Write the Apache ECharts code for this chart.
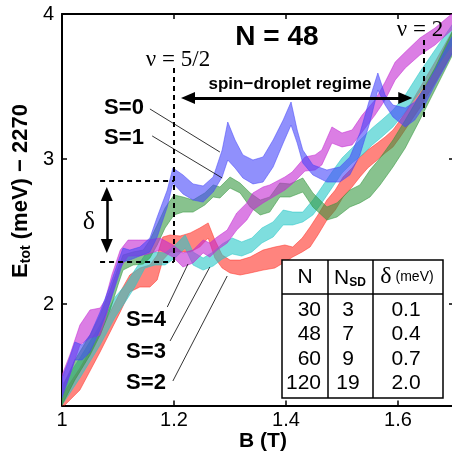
<!DOCTYPE html>
<html>
<head>
<meta charset="utf-8">
<script src="https://cdn.jsdelivr.net/npm/echarts@6/dist/echarts.min.js"></script>
<style>
html,body{margin:0;padding:0;background:#fff;}
#chart{width:452px;height:458px;}
</style>
</head>
<body>
<div id="chart"></div>
<script>
// S=0 (blue): B, lower edge, upper edge of the band
const s0B  = [1.000,1.011,1.023,1.036,1.050,1.068,1.086,1.100,1.109,1.121,1.139,1.157,1.170,1.188,1.198,1.216,1.234,1.252,1.270,1.286,1.296,1.309,1.323,1.341,1.359,1.377,1.395,1.409,1.420,1.430,1.448,1.473,1.496,1.514,1.532,1.550,1.564,1.577,1.591,1.613,1.630,1.648,1.666,1.684,1.700];
const s0Lo = [1.352,1.476,1.614,1.614,1.669,1.821,2.014,2.179,2.290,2.303,2.331,2.359,2.462,2.669,2.834,2.759,2.717,2.703,2.772,2.876,2.993,2.938,2.869,2.828,2.841,2.945,3.110,3.234,3.110,2.972,2.890,2.841,2.841,2.890,3.028,3.255,3.476,3.372,3.290,3.221,3.269,3.372,3.510,3.634,3.752];
const s0Hi = [1.490,1.600,1.738,1.717,1.786,1.945,2.131,2.290,2.386,2.372,2.393,2.455,2.600,2.786,2.938,2.890,2.828,2.814,2.876,3.062,3.255,3.131,3.028,2.993,3.014,3.131,3.269,3.393,3.200,3.062,2.959,2.924,2.945,3.014,3.179,3.421,3.593,3.441,3.372,3.352,3.393,3.490,3.614,3.752,3.869];

// S=1 (green)
const s1B  = [1.000,1.023,1.050,1.068,1.086,1.100,1.109,1.127,1.145,1.157,1.170,1.184,1.200,1.216,1.234,1.255,1.270,1.282,1.300,1.318,1.336,1.354,1.371,1.389,1.407,1.430,1.448,1.473,1.491,1.514,1.532,1.550,1.568,1.591,1.613,1.639,1.666,1.700];
const s1Lo = [1.303,1.476,1.648,1.786,1.959,2.131,2.234,2.269,2.276,2.317,2.407,2.524,2.614,2.634,2.634,2.683,2.738,2.731,2.800,2.766,2.669,2.614,2.634,2.738,2.738,2.772,2.669,2.579,2.600,2.669,2.697,2.738,2.821,2.945,3.076,3.269,3.476,3.738];
const s1Hi = [1.421,1.614,1.786,1.924,2.097,2.248,2.338,2.359,2.372,2.441,2.545,2.662,2.752,2.738,2.717,2.766,2.821,2.807,2.876,2.834,2.766,2.717,2.738,2.834,2.828,2.869,2.766,2.669,2.697,2.786,2.821,2.924,3.007,3.131,3.269,3.441,3.628,3.903];

// S=2 (red)
const s2B  = [1.000,1.032,1.068,1.086,1.104,1.121,1.139,1.157,1.170,1.180,1.193,1.211,1.229,1.246,1.261,1.273,1.286,1.300,1.318,1.336,1.359,1.380,1.398,1.412,1.429,1.443,1.457,1.473,1.488,1.502,1.518,1.532,1.546,1.563,1.577,1.591,1.604,1.616,1.639,1.666,1.700];
const s2Lo = [1.283,1.407,1.669,1.807,1.945,2.083,2.117,2.117,2.166,2.303,2.359,2.359,2.359,2.393,2.455,2.317,2.248,2.214,2.200,2.214,2.234,2.248,2.290,2.324,2.359,2.393,2.476,2.579,2.648,2.738,2.807,2.876,2.938,2.993,3.041,3.083,3.152,3.221,3.352,3.524,3.752];
const s2Hi = [1.372,1.559,1.800,1.945,2.083,2.200,2.248,2.269,2.338,2.462,2.476,2.469,2.490,2.524,2.559,2.441,2.338,2.303,2.303,2.324,2.372,2.393,2.407,2.393,2.455,2.531,2.614,2.717,2.786,2.876,2.938,3.014,3.062,3.110,3.152,3.200,3.269,3.338,3.490,3.669,3.903];

// S=3 (cyan)
const s3B  = [1.000,1.032,1.068,1.095,1.113,1.130,1.148,1.166,1.184,1.202,1.220,1.234,1.252,1.270,1.286,1.304,1.321,1.339,1.357,1.377,1.395,1.412,1.430,1.448,1.464,1.482,1.500,1.518,1.536,1.554,1.571,1.591,1.613,1.639,1.666,1.700];
const s3Lo = [1.303,1.490,1.717,1.910,2.014,2.117,2.248,2.269,2.269,2.317,2.386,2.269,2.234,2.262,2.310,2.345,2.331,2.359,2.421,2.462,2.545,2.545,2.566,2.614,2.697,2.800,2.903,2.972,3.028,3.097,3.152,3.221,3.324,3.462,3.614,3.807];
const s3Hi = [1.441,1.628,1.855,2.048,2.131,2.234,2.338,2.359,2.352,2.407,2.476,2.359,2.317,2.359,2.414,2.455,2.428,2.455,2.524,2.566,2.648,2.634,2.634,2.717,2.807,2.910,3.007,3.076,3.145,3.214,3.269,3.338,3.441,3.600,3.752,3.945];

// S=4 (magenta)
const s4B  = [1.000,1.014,1.032,1.050,1.068,1.077,1.089,1.104,1.118,1.136,1.154,1.175,1.198,1.216,1.234,1.252,1.264,1.277,1.295,1.312,1.330,1.341,1.359,1.371,1.398,1.411,1.434,1.452,1.464,1.482,1.500,1.518,1.536,1.559,1.577,1.595,1.613,1.639,1.666,1.700];
const s4Lo = [1.372,1.510,1.717,1.766,1.786,1.890,2.062,2.248,2.331,2.331,2.345,2.372,2.324,2.255,2.283,2.352,2.324,2.372,2.421,2.510,2.579,2.648,2.697,2.724,2.786,2.828,2.917,2.924,2.959,3.110,3.083,3.097,3.186,3.303,3.407,3.545,3.628,3.717,3.786,3.903];
const s4Hi = [1.510,1.648,1.855,1.959,1.972,2.028,2.200,2.372,2.441,2.441,2.441,2.455,2.407,2.352,2.372,2.441,2.421,2.462,2.510,2.628,2.697,2.766,2.807,2.821,2.876,2.910,3.014,3.028,3.062,3.221,3.179,3.200,3.303,3.407,3.531,3.669,3.738,3.834,3.903,4.014];

// inset table
const tableN     = ['30', '48', '60', '120'];
const tableNsd   = ['3', '7', '9', '19'];
const tableDelta = ['0.1', '0.4', '0.7', '2.0'];

// axis ticks
const xTicks = [1, 1.2, 1.4, 1.6];
const yTicks = [2, 3, 4];

// annotation segments in data coords [B, E]
const nu52Line   = [[1.2, 3.628], [1.2, 2.290]];
const nu2Line    = [[1.646, 3.821], [1.646, 3.290]];
const deltaTop   = [[1.068, 2.848], [1.2, 2.848]];
const deltaBot   = [[1.068, 2.290], [1.2, 2.290]];
const deltaArrow = [[1.080, 2.759], [1.080, 2.400]];
const spinArrow  = [[1.225, 3.421], [1.613, 3.421]];
const pointers = [
  [[1.157, 3.345], [1.282, 3.048]], // S=0
  [[1.161, 3.159], [1.286, 2.869]], // S=1
  [[1.188, 1.979], [1.225, 2.276]], // S=4
  [[1.193, 1.745], [1.264, 2.255]], // S=3
  [[1.198, 1.469], [1.295, 2.193]]  // S=2
];

const sans = '"Liberation Sans", Arial, Helvetica, sans-serif';
const serif = '"Liberation Serif", "Times New Roman", serif';

// one shaded band = polygon: upper edge left->right, lower edge back
function band(name, bs, lo, hi, rgb, alpha) {
  return {
    name: name, type: 'custom', silent: true, animation: false,
    encode: { x: 0, y: [1, 2] },
    data: bs.map((b, i) => [b, lo[i], hi[i]]),
    renderItem: function (params, api) {
      if (params.dataIndexInside !== 0) return null;
      const n = params.dataInsideLength;
      const top = [], bot = [];
      for (let i = 0; i < n; i++) {
        const x = api.value(0, i);
        top.push(api.coord([x, api.value(2, i)]));
        bot.push(api.coord([x, api.value(1, i)]));
      }
      const cs = params.coordSys;
      return {
        type: 'polygon',
        shape: { points: top.concat(bot.reverse()) },
        style: { fill: 'rgba(' + rgb + ',' + alpha + ')', stroke: 'rgba(' + rgb + ',0.75)', lineWidth: 0.7 },
        clipPath: { type: 'rect', shape: { x: cs.x, y: cs.y, width: cs.width, height: cs.height } }
      };
    }
  };
}

const dash = { color: '#000', width: 2, type: [5, 4] };
const thin = { color: '#000', width: 0.8, type: 'solid' };
const bold = { color: '#000', width: 2.5, type: 'solid' };

function seg(p, style, s1, s2) {
  return [
    { coord: p[0], lineStyle: style, symbol: s1 || 'none', symbolSize: [12, 14] },
    { coord: p[1], symbol: s2 || 'none', symbolSize: [12, 14] }
  ];
}

const notes = [
  seg(nu52Line, dash), seg(nu2Line, dash), seg(deltaTop, dash), seg(deltaBot, dash),
  seg(deltaArrow, bold, 'triangle', 'triangle'),
  seg(spinArrow, { color: '#000', width: 3, type: 'solid' }, 'triangle', 'triangle')
].concat(pointers.map(p => seg(p, thin)));

function txt(x, y, text, font, extra) {
  return Object.assign({
    type: 'text', x: x, y: y, silent: true, z: 100,
    style: { text: text, font: font, fill: '#000', align: 'center', verticalAlign: 'middle' }
  }, extra || {});
}

// table layout (pixels)
const tL = 282, tT = 260, tR = 443, tB = 398, tHead = 294, c1 = 328, c2 = 373;
const tableGraphics = [
  { type: 'rect', z: 99, silent: true, shape: { x: tL, y: tT, width: tR - tL, height: tB - tT },
    style: { fill: '#fff', stroke: '#000', lineWidth: 1.5 } },
  { type: 'line', z: 100, silent: true, shape: { x1: tL, y1: tHead, x2: tR, y2: tHead }, style: { stroke: '#000', lineWidth: 1.5 } },
  { type: 'line', z: 100, silent: true, shape: { x1: c1, y1: tT, x2: c1, y2: tB }, style: { stroke: '#000', lineWidth: 1.5 } },
  { type: 'line', z: 100, silent: true, shape: { x1: c2, y1: tT, x2: c2, y2: tB }, style: { stroke: '#000', lineWidth: 1.5 } },
  txt(305, 277, 'N', '21px ' + sans),
  txt(350, 278, '', '', { style: { text: '{n|N}{s|SD}', align: 'center', verticalAlign: 'middle', fill: '#000',
      rich: { n: { font: '21px ' + sans }, s: { font: 'bold 12px ' + sans, padding: [10, 0, 0, 0] } } } }),
  txt(407, 277, '', '', { style: { text: '{d|δ}{m| (meV)}', align: 'center', verticalAlign: 'middle', fill: '#000',
      rich: { d: { font: '24px ' + serif }, m: { font: '14px ' + sans } } } })
];
tableN.forEach((v, i) => {
  const y = 310 + i * 24.4;
  tableGraphics.push(txt(321, y, v, '21px ' + sans, { style: { text: v, font: '21px ' + sans, fill: '#000', align: 'right', verticalAlign: 'middle' } }));
  tableGraphics.push(txt(348, y, tableNsd[i], '21px ' + sans));
  tableGraphics.push(txt(406, y, tableDelta[i], '21px ' + sans));
});

const chart = echarts.init(document.getElementById('chart'), null, { renderer: 'canvas' });

const series = [
  band('S=2', s2B, s2Lo, s2Hi, '255,50,40', 0.6),
  band('S=3', s3B, s3Lo, s3Hi, '40,200,200', 0.6),
  band('S=1', s1B, s1Lo, s1Hi, '50,150,60', 0.58),
  band('S=4', s4B, s4Lo, s4Hi, '195,40,210', 0.6),
  band('S=0', s0B, s0Lo, s0Hi, '70,70,250', 0.6),
  {
    name: 'notes', type: 'line', data: [], silent: true, animation: false,
    markLine: {
      silent: true, animation: false, symbol: ['none', 'none'],
      label: { show: false }, emphasis: { disabled: true },
      itemStyle: { color: '#000' },
      data: notes
    }
  }
];

chart.setOption({
  animation: false,
  backgroundColor: '#fff',
  grid: { left: 62, right: -2, top: 14, bottom: 52.5, containLabel: false, outerBoundsMode: 'none' },
  xAxis: [{
    type: 'value', min: 1, max: 1.7, position: 'bottom',
    axisLine: { show: true, lineStyle: { color: '#000', width: 2 } },
    axisTick: { show: true, inside: true, length: 5, customValues: xTicks, lineStyle: { color: '#000', width: 1.5 } },
    axisLabel: { show: true, customValues: xTicks, color: '#000', fontSize: 20, fontFamily: sans, margin: 5,
      formatter: v => (v === 1 ? '1' : v.toFixed(1)) },
    splitLine: { show: false }
  }, {
    type: 'value', min: 1, max: 1.7, position: 'top',
    axisLine: { show: true, lineStyle: { color: '#000', width: 2 } },
    axisTick: { show: true, inside: true, length: 5, customValues: [1.2, 1.4, 1.6], lineStyle: { color: '#000', width: 1.5 } },
    axisLabel: { show: false },
    splitLine: { show: false }
  }],
  yAxis: [{
    type: 'value', min: 1.3, max: 4, position: 'left',
    axisLine: { show: true, lineStyle: { color: '#000', width: 2 } },
    axisTick: { show: true, inside: true, length: 5, customValues: yTicks, lineStyle: { color: '#000', width: 1.5 } },
    axisLabel: { show: true, customValues: yTicks, color: '#000', fontSize: 20, fontFamily: sans, margin: 8 },
    splitLine: { show: false }
  }, {
    type: 'value', min: 1.3, max: 4, position: 'right',
    axisLine: { show: true, lineStyle: { color: '#000', width: 2 } },
    axisTick: { show: true, inside: true, length: 5, customValues: [2, 3], lineStyle: { color: '#000', width: 1.5 } },
    axisLabel: { show: false },
    splitLine: { show: false }
  }],
  series: series,
  graphic: [
    txt(277, 37, 'N = 48', 'bold 28px ' + sans),
    txt(178, 60, 'ν = 5/2', '23px ' + serif),
    txt(420, 30, 'ν = 2', '23px ' + serif),
    txt(290, 84, 'spin\u2212droplet regime', 'bold 17px ' + sans),
    txt(124, 108, 'S=0', 'bold 22px ' + sans),
    txt(124, 138, 'S=1', 'bold 22px ' + sans),
    txt(146, 320, 'S=4', 'bold 22px ' + sans),
    txt(146, 352, 'S=3', 'bold 22px ' + sans),
    txt(146, 383, 'S=2', 'bold 22px ' + sans),
    txt(89, 222, 'δ', '26px ' + serif),
    txt(263, 441, 'B (T)', 'bold 21px ' + sans),
    {
      type: 'text', x: 21, y: 191, rotation: Math.PI / 2, silent: true, z: 100,
      style: {
        text: '{b|E}{s|tot}{b| (meV) \u2212 2270}', align: 'center', verticalAlign: 'middle', fill: '#000',
        rich: { b: { font: 'bold 22px ' + sans }, s: { font: 'bold 14px ' + sans, padding: [10, 0, 0, 0] } }
      }
    }
  ].concat(tableGraphics)
});
</script>
</body>
</html>
